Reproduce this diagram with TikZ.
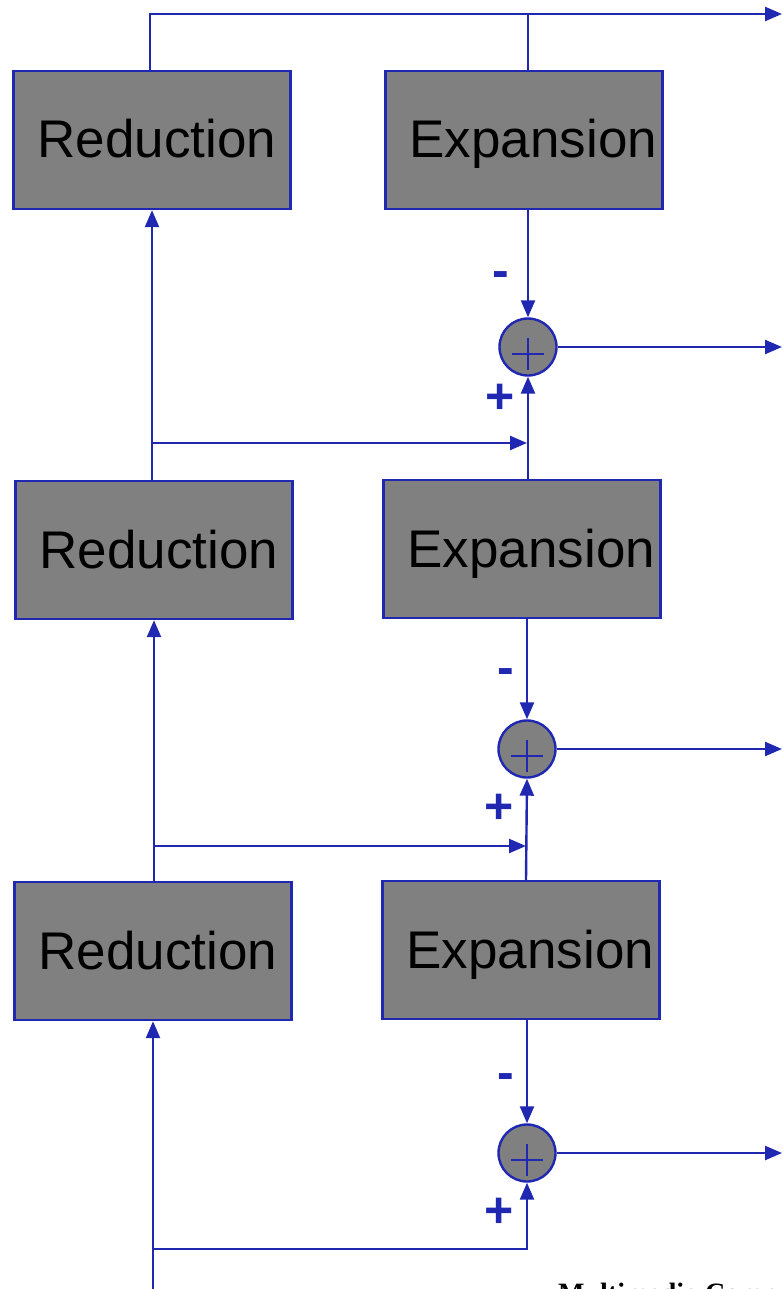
\documentclass[tikz,border=0pt]{standalone}
\usepackage{fontspec}
\setmainfont{Liberation Sans}
\newfontfamily\footfont{Liberation Serif}
\usetikzlibrary{arrows.meta, positioning, calc}
\definecolor{colLine}{RGB}{32,40,178}
\definecolor{colFill}{RGB}{128,128,128}
\tikzset{
  box/.style={
    rectangle, draw=colLine, line width=2.4pt,
    fill=colFill, text=black,
    minimum width=277pt, minimum height=138pt,
    font=\fontsize{53}{60}\selectfont,
    inner xsep=24pt, inner ysep=0pt,
    text width=229pt, align=left,
    text height=39pt, text depth=3pt
  },
  redBox/.style={box},
  expBox/.style={box},
  sumNode/.style={
    circle, draw=colLine, line width=2.4pt, fill=colFill,
    minimum size=57pt, inner sep=0pt,
    path picture={
      \draw[colLine, line width=2pt]
        ($(path picture bounding box.center)+(-16pt,-7pt)$) -- +(32pt,0pt)
        ($(path picture bounding box.center)+(0pt,-23pt)$) -- +(0pt,32pt);
    }
  },
  line/.style={line width=2.4pt, color=colLine},
  arr/.style={
    line, -{Triangle[length=17pt, width=14pt]}
  },
  sign/.style={
    font=\bfseries\fontsize{50}{50}\selectfont, text=colLine, inner sep=0pt
  }
}
\begin{document}
\begin{tikzpicture}[x=1pt, y=-1pt]
  \useasboundingbox[fill=white] (0,0) rectangle (782,1289);

  % blocks
  \node[redBox] (r1) at (152,140) {Reduction};
  \node[expBox] (e1) at (524,140) {Expansion};
  \node[redBox] (r2) at (154,550) {Reduction};
  \node[expBox] (e2) at (522,549) {Expansion};
  \node[redBox] (r3) at (153,951) {Reduction};
  \node[expBox] (e3) at (521,950) {Expansion};

  % adders
  \node[sumNode] (s1) at (528,347) {};
  \node[sumNode] (s2) at (527,749) {};
  \node[sumNode] (s3) at (527,1153) {};

  % outputs and junctions
  \coordinate (out0) at (782,14);
  \coordinate (j1) at (527,443);
  \coordinate (j2) at (526,846);
  \coordinate (j3) at (153,1249);
  \coordinate (in) at (153,1295);

  % top output
  \draw[arr] (r1.north -| 150,0) |- (out0);
  \draw[line] (e1.north -| s1) -- (s1 |- out0);

  % level 1
  \draw[arr] (e1.south -| s1) -- (s1.north);
  \draw[arr] (s1.east) -- (s1.east -| out0);
  \draw[arr] (r2.north -| r1.south) -- (r1.south);
  \draw[arr] (r1.south |- j1) -- (j1);
  \draw[arr] (e2.north -| s1) -- (s1.south);
  \node[sign] at (501,280) {-};
  \node[sign] at (500,399) {+};

  % level 2
  \draw[arr] (e2.south -| s2) -- (s2.north);
  \draw[arr] (s2.east) -- (s2.east -| out0);
  \draw[arr] (r3.north -| r2.south) -- (r2.south);
  \draw[arr] (r2.south |- j2) -- (j2);
  \draw[arr] (e3.north -| j2) -- (s2.south);
  \node[sign] at (506,677) {-};
  \node[sign] at (499,809) {+};

  % level 3
  \draw[arr] (e3.south -| s3) -- (s3.north);
  \draw[arr] (s3.east) -- (s3.east -| out0);
  \draw[arr] (in) -- (r3.south);
  \draw[arr] (j3) -| (s3.south);
  \node[sign] at (506,1082) {-};
  \node[sign] at (499,1213) {+};

  % footer, cut by the page edge
  \node[anchor=base west, inner sep=0pt, font=\footfont\bfseries\fontsize{28}{28}\selectfont]
    (foot) at (558,1302) {Multimedia Computing};
\end{tikzpicture}
\end{document}
